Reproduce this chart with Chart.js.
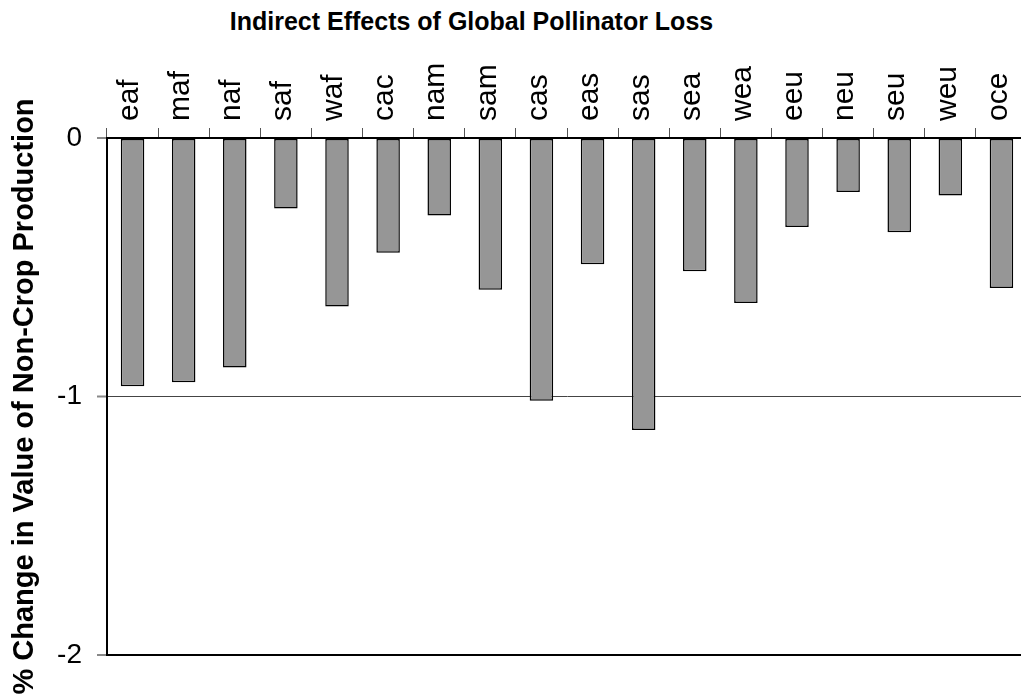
<!DOCTYPE html>
<html>
<head>
<meta charset="utf-8">
<script src="https://cdn.jsdelivr.net/npm/chart.js@4/dist/chart.umd.min.js"></script>
<style>
  body { margin: 0; overflow: hidden; background: #fff; font-family: "Liberation Sans", Arial, sans-serif; }
  #title { position: absolute; left: 0; top: 7px; width: 943px; text-align: center; font-weight: bold; font-size: 25px; color: #000; }
  #wrap { position: absolute; left: 0; top: 0; }
</style>
</head>
<body>
<div id="title">Indirect Effects of Global Pollinator Loss</div>
<div id="wrap"><canvas id="chart" width="1028" height="698"></canvas></div>
<script>
var regions = ['eaf', 'maf', 'naf', 'saf', 'waf', 'cac', 'nam', 'sam', 'cas', 'eas', 'sas', 'sea', 'wea', 'eeu', 'neu', 'seu', 'weu', 'oce'];
var changes = [-0.96, -0.945, -0.888, -0.273, -0.652, -0.444, -0.30, -0.587, -1.016, -0.488, -1.13, -0.515, -0.638, -0.344, -0.209, -0.365, -0.222, -0.58];
var yMin = -2;
var yMax = 0;
var yLabel = '% Change in Value of Non-Crop Production';

var ctx = document.getElementById('chart');
var myChart = new Chart(ctx, {
    type: 'bar',
    data: {
        labels: regions,
        datasets: [{
            data: changes,
            backgroundColor: '#969696',
            borderColor: '#000',
            borderWidth: 1.5,
            borderSkipped: false,
            barPercentage: 0.46,
            categoryPercentage: 1
        }]
    },
    options: {
        responsive: false,
        animation: false,
        layout: { padding: { top: 0, left: 0, right: 1, bottom: 43 } },
        plugins: {
            legend: { display: false },
            title: { display: false },
            tooltip: { enabled: false }
        },
        scales: {
            x: {
                position: 'top',
                afterFit: function (s) { s.height = 138; },
                grid: {
                    display: true,
                    drawOnChartArea: false,
                    offset: true,
                    tickLength: 10,
                    tickColor: '#555',
                    tickWidth: 1
                },
                border: { display: true, color: '#000', width: 2 },
                ticks: {
                    color: '#000',
                    minRotation: 90,
                    maxRotation: 90,
                    padding: 7,
                    labelOffset: 33,
                    font: { family: '"Liberation Sans", Arial, sans-serif', size: 30 }
                }
            },
            y: {
                min: yMin,
                max: yMax,
                afterFit: function (s) { s.width = 107; },
                grid: {
                    color: function (c) { return c.tick && c.tick.value === -1 ? '#444' : '#000'; },
                    lineWidth: function (c) { return c.tick && c.tick.value === -1 ? 1 : 2; },
                    tickLength: 10,
                    tickColor: '#888',
                    tickWidth: 2
                },
                border: { display: true, color: '#000', width: 2 },
                ticks: {
                    stepSize: 1,
                    color: '#000',
                    padding: 15,
                    font: { family: '"Liberation Sans", Arial, sans-serif', size: 28 }
                },
                title: {
                    display: true,
                    text: yLabel,
                    color: '#000',
                    padding: { top: 8, bottom: 0 },
                    font: { family: '"Liberation Sans", Arial, sans-serif', size: 29, weight: 'bold' }
                }
            }
        }
    }
});
</script>
</body>
</html>
